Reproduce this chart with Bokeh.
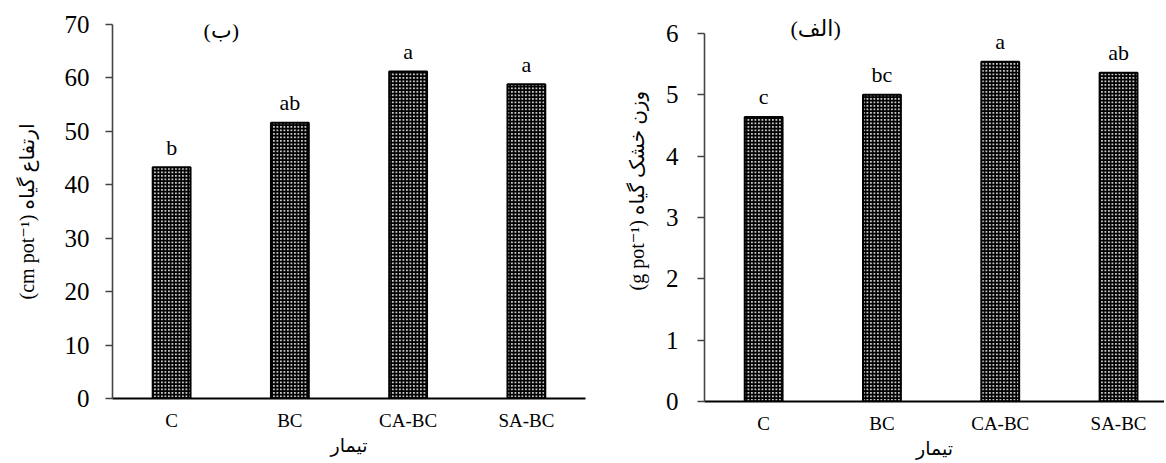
from bokeh.plotting import figure
from bokeh.layouts import row, column
from bokeh.models import Range1d, FixedTicker, ColumnDataSource, Label, Title
from bokeh.core.properties import value
from bokeh.embed import file_html
from bokeh.resources import INLINE

categories = ["C", "BC", "CA-BC", "SA-BC"]
height_values = [43.3, 51.6, 61.2, 58.8]
height_letters = ["b", "ab", "a", "a"]
weight_values = [4.64, 5.0, 5.54, 5.36]
weight_letters = ["c", "bc", "a", "ab"]

SERIF = "Liberation Serif, DejaVu Sans"


def make(vals, letters, ymax, yticks, xend, frame_w, frame_h, b_left, b_right, b_top, b_bottom,
         ystandoff):
    xs = [i + 0.5 for i in range(len(categories))]
    src = ColumnDataSource(dict(x=xs, top=vals, lab=letters))
    p = figure(frame_width=frame_w, frame_height=frame_h, output_backend="svg",
               toolbar_location=None,
               x_range=Range1d(0, xend), y_range=Range1d(0, ymax),
               min_border_left=b_left, min_border_right=b_right,
               min_border_top=b_top, min_border_bottom=b_bottom)
    p.outline_line_color = None
    p.grid.visible = False
    p.vbar(x="x", top="top", width=0.32, source=src, fill_color="#c8c8c8",
           hatch_pattern="cross", hatch_color="black", hatch_scale=3.5, hatch_weight=1.8,
           line_color="black", line_width=2)
    p.text(x="x", y="top", text="lab", source=src, text_align="center",
           text_baseline="alphabetic", y_offset=-20, text_font=value(SERIF),
           text_font_size="22px", text_color="black")
    p.xaxis.ticker = FixedTicker(ticks=xs)
    p.xaxis.major_label_overrides = {x: c for x, c in zip(xs, categories)}
    p.xaxis.major_tick_line_color = None
    p.xaxis.minor_tick_line_color = None
    p.xaxis.axis_line_color = "black"
    p.xaxis.axis_line_width = 2
    p.xaxis.major_label_text_font = SERIF
    p.xaxis.major_label_text_font_size = "19px"
    p.xaxis.major_label_text_color = "black"
    p.xaxis.major_label_standoff = 5
    p.xaxis.axis_label = "تیمار"
    p.xaxis.axis_label_text_font = SERIF
    p.xaxis.axis_label_text_font_style = "normal"
    p.xaxis.axis_label_text_font_size = "19px"
    p.xaxis.axis_label_text_color = "black"
    p.xaxis.axis_label_standoff = 1
    p.yaxis.ticker = FixedTicker(ticks=yticks)
    p.yaxis.axis_line_color = "#444444"
    p.yaxis.axis_line_width = 1.6
    p.yaxis.major_tick_line_color = "#444444"
    p.yaxis.major_tick_line_width = 1.6
    p.yaxis.major_tick_out = 7
    p.yaxis.major_tick_in = 0
    p.yaxis.minor_tick_line_color = None
    p.yaxis.major_label_text_font = SERIF
    p.yaxis.major_label_text_font_size = "25px"
    p.yaxis.major_label_text_color = "black"
    p.yaxis.major_label_standoff = ystandoff
    return p


left = make(height_values, height_letters, 70, list(range(0, 71, 10)), 4.0,
            473, 374, 112, 5, 24, 58, 16)
left.add_layout(Label(x=0.92, y=68.8, text="(ب)", text_align="center",
                      text_baseline="middle", text_font=SERIF, text_font_size="22px",
                      text_color="black"))
left.yaxis.axis_label = "(cm pot⁻¹) ارتفاع گیاه"
left.yaxis.axis_label_text_font = SERIF
left.yaxis.axis_label_text_font_style = "normal"
left.yaxis.axis_label_text_font_size = "20px"
left.yaxis.axis_label_text_color = "black"
left.yaxis.axis_label_standoff = 24

right = make(weight_values, weight_letters, 6, list(range(0, 7)), 460 / 118.3,
             460, 368, 114, 0, 33, 58, 19)
right.add_layout(Title(text="(الف)", align="left", offset=86, text_font=SERIF,
                       text_font_style="normal", text_font_size="22px",
                       text_color="black", standoff=-14), "above")
right.add_layout(Title(text="(g pot⁻¹) وزن خشک گیاه", align="left", offset=111,
                       text_font=SERIF, text_font_style="normal", text_font_size="20px",
                       text_color="black", standoff=30), "left")

layout = row(column(left), column(right))
open("out.html", "w").write(file_html(layout, INLINE))
